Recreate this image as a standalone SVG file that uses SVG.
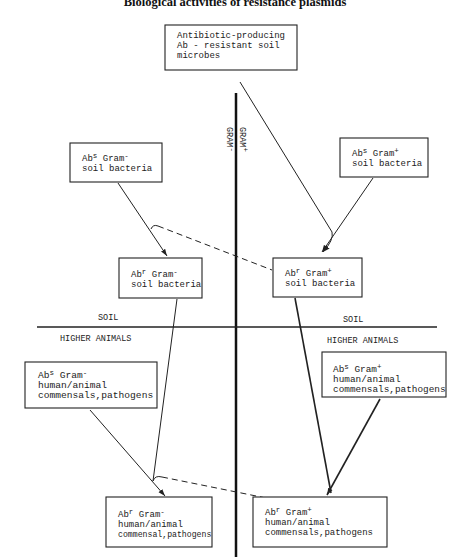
<svg xmlns="http://www.w3.org/2000/svg" width="452" height="557" viewBox="0 0 452 557">
<style>
.box{fill:#fff;stroke:#222;stroke-width:1.1}
.t{font-family:"Liberation Mono",monospace;font-size:9px;fill:#222}
.tb{font-size:9.6px}
.s{font-size:7.5px}
.lab{font-family:"Liberation Mono",monospace;font-size:8.5px;fill:#222}
.c{fill:none;stroke:#222;stroke-width:1}
.ck{fill:none;stroke:#222;stroke-width:1.6}
.d{fill:none;stroke:#222;stroke-width:1;stroke-dasharray:6 4}
</style>
<defs>
<marker id="ah" viewBox="0 0 10 10" refX="10" refY="5" markerWidth="7" markerHeight="7" markerUnits="userSpaceOnUse" orient="auto">
<path d="M0,1.5 L10,5 L0,8.5 z" fill="#222"/>
</marker>
</defs>
<text x="235" y="6" text-anchor="middle" font-family="Liberation Serif,serif" font-weight="bold" font-size="12.5" fill="#111">Biological activities of resistance plasmids</text>

<g id="axes">
<line x1="236" y1="93" x2="236" y2="557" stroke="#111" stroke-width="2.5"/>
<line x1="37" y1="327" x2="437" y2="327" stroke="#222" stroke-width="1.3"/>
<text class="lab" transform="translate(240,127) rotate(90)">GRAM<tspan class="s" dy="-3">+</tspan></text>
<text class="lab" transform="translate(227,127) rotate(90)">GRAM<tspan class="s" dy="-3">-</tspan></text>
<text class="lab" x="98" y="320">SOIL</text>
<text class="lab" x="343" y="322">SOIL</text>
<text class="lab" x="60" y="341">HIGHER ANIMALS</text>
<text class="lab" x="327" y="343">HIGHER ANIMALS</text>
</g>

<g id="connectors">
<path class="c" d="M240,82 L332,232 Q334,240 323,252" marker-end="url(#ah)"/>
<line class="c" x1="373" y1="178" x2="322" y2="252" marker-end="url(#ah)"/>
<line class="c" x1="118" y1="183" x2="167" y2="256" marker-end="url(#ah)"/>
<path class="c" d="M151,229 Q153,224 158,226"/>
<line class="d" x1="158" y1="226" x2="272" y2="270"/>
<line class="c" x1="177" y1="299" x2="153" y2="481"/>
<path class="c" d="M153,481 Q155,475 162,477"/>
<line class="d" x1="162" y1="477" x2="271" y2="499"/>
<line class="c" x1="90" y1="410" x2="165" y2="496" marker-end="url(#ah)"/>
<line class="ck" x1="295" y1="298" x2="331" y2="493"/>
<line class="ck" x1="380" y1="399" x2="327" y2="495" marker-end="url(#ah)"/>
</g>

<g id="n-producers">
<rect class="box" x="165" y="25" width="132" height="45"/>
<text class="t" x="177" y="38">Antibiotic-producing</text>
<text class="t" x="177" y="48">Ab - resistant soil</text>
<text class="t" x="177" y="58">microbes</text>
</g>

<g id="n-abs-gneg-soil">
<rect class="box" x="70" y="143" width="92" height="39"/>
<text class="t" x="82" y="161">Ab<tspan class="s" dy="-3.5">s</tspan><tspan dy="3.5"> Gram</tspan><tspan class="s" dy="-3.5">-</tspan></text>
<text class="t" x="82" y="171">soil bacteria</text>
</g>

<g id="n-abs-gpos-soil">
<rect class="box" x="340" y="138" width="88" height="39"/>
<text class="t" x="352" y="156">Ab<tspan class="s" dy="-3.5">s</tspan><tspan dy="3.5"> Gram</tspan><tspan class="s" dy="-3.5">+</tspan></text>
<text class="t" x="352" y="166">soil bacteria</text>
</g>

<g id="n-abr-gneg-soil">
<rect class="box" x="119" y="258" width="83" height="40"/>
<text class="t" x="131" y="277">Ab<tspan class="s" dy="-3.5">r</tspan><tspan dy="3.5"> Gram</tspan><tspan class="s" dy="-3.5">-</tspan></text>
<text class="t" x="131" y="287">soil bacteria</text>
</g>

<g id="n-abr-gpos-soil">
<rect class="box" x="273" y="258" width="89" height="39"/>
<text class="t" x="285" y="276">Ab<tspan class="s" dy="-3.5">r</tspan><tspan dy="3.5"> Gram</tspan><tspan class="s" dy="-3.5">+</tspan></text>
<text class="t" x="285" y="286">soil bacteria</text>
</g>

<g id="n-abs-gneg-human">
<rect class="box" x="25" y="362" width="132" height="46"/>
<text class="t tb" x="38" y="378">Ab<tspan class="s" dy="-3.5">s</tspan><tspan dy="3.5"> Gram</tspan><tspan class="s" dy="-3.5">-</tspan></text>
<text class="t tb" x="38" y="388">human/animal</text>
<text class="t tb" x="38" y="398">commensals,pathogens</text>
</g>

<g id="n-abs-gpos-human">
<rect class="box" x="322" y="352" width="124" height="45"/>
<text class="t" x="333" y="372" style="font-size:9.4px">Ab<tspan class="s" dy="-3.5">s</tspan><tspan dy="3.5"> Gram</tspan><tspan class="s" dy="-3.5">+</tspan></text>
<text class="t" x="333" y="382" style="font-size:9.4px">human/animal</text>
<text class="t" x="333" y="392" style="font-size:9.4px">commensals,pathogens</text>
</g>

<g id="n-abr-gneg-human">
<rect class="box" x="106" y="497" width="106" height="50"/>
<text class="t" x="118" y="517">Ab<tspan class="s" dy="-3.5">r</tspan><tspan dy="3.5"> Gram</tspan><tspan class="s" dy="-3.5">-</tspan></text>
<text class="t" x="118" y="527">human/animal</text>
<text class="t" x="118" y="537" style="font-size:8.2px">commensal,pathogens</text>
</g>

<g id="n-abr-gpos-human">
<rect class="box" x="253" y="497" width="134" height="50"/>
<text class="t" x="265" y="515">Ab<tspan class="s" dy="-3.5">r</tspan><tspan dy="3.5"> Gram</tspan><tspan class="s" dy="-3.5">+</tspan></text>
<text class="t" x="265" y="525">human/animal</text>
<text class="t" x="265" y="535">commensals,pathogens</text>
</g>
</svg>
